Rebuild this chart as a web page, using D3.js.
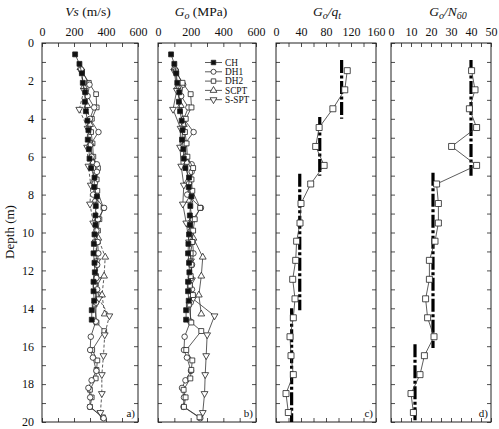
<!DOCTYPE html>
<html><head><meta charset="utf-8">
<script src="https://cdn.jsdelivr.net/npm/d3@7"></script>
<style>
body{margin:0;background:#fff}
svg{display:block}
text{font-family:"Liberation Serif","Times New Roman",serif;fill:#111}
</style>
</head><body>
<svg id="c" width="499" height="429"></svg>
<script>
// ---------- DATA ----------
const seriesNames = ["CH","DH1","DH2","SCPT","S-SPT"];
const depthTickLabels = [0,2,4,6,8,10,12,14,16,18,20];

// CH (cross-hole)
const chDepth = [0.6,1.1,1.6,2.1,2.6,3.1,3.6,4.1,4.6,5.1,5.6,6.1,6.6,7.1,7.6,8.1,8.6,9.1,9.6,10.1,10.6,11.1,11.6,12.1,12.6,13.1,13.6,14.1,14.6];
const chVs = [207,234,249,255,270,268,274,284,290,286,293,297,307,328,326,343,336,334,334,328,324,322,328,330,322,322,326,311,311];
const chGo = [80,100,112,118,130,128,135,145,150,147,155,158,168,190,188,205,198,195,195,190,186,184,190,192,184,184,188,172,172];

// DH1 (down-hole 1)
const dh1Depth = [1.4,2.2,2.8,3.4,4.0,4.7,5.4,6.0,6.4,6.8,7.4,8.0,8.7,9.3,9.9,10.5,11.1,11.7,12.4,13.0,13.7,14.7,15.5,16.2,16.6,17.3,17.8,18.2,18.7,19.2,19.8];
const dh1Vs = [245,297,285,326,300,353,300,310,343,343,330,320,388,350,340,348,352,345,340,345,338,336,305,301,318,340,310,290,301,299,385];
const dh1Go = [105,154,142,186,158,218,158,168,206,206,191,179,263,214,202,212,217,208,202,208,200,198,163,159,177,202,168,147,159,156,259];

// DH2 (down-hole 2)
const dh2Depth = [1.5,2.1,2.7,3.4,4.0,4.7,5.3,6.0,6.6,7.2,7.8,8.7,9.3,9.9,10.5,11.1,11.7,12.3,12.8,13.3,13.8,14.75,15.2,16.2,16.75,17.25,17.7,18.3,18.7,19.2,19.75];
const dh2Vs = [251,293,338,342,312,307,316,321,350,342,346,384,359,350,346,338,342,338,334,350,329,341,389,314,346,341,336,300,311,301,381];
const dh2Go = [110,150,200,205,170,165,175,180,215,205,210,258,225,215,210,200,205,200,195,214,189,204,265,173,210,204,198,157,169,159,254];

// SCPT
const scptDepth = [1.3,2.3,3.3,4.3,5.3,6.3,7.3,8.3,9.3,10.3,11.3,12.3,13.3,14.3];
const scptVs = [240,262,283,300,305,318,322,332,345,352,395,388,375,392];
const scptGo = [100,120,140,158,163,177,181,193,208,217,274,265,250,265];

// S-SPT
const ssptDepth = [1.5,2.5,3.5,4.5,5.5,6.5,7.5,8.5,9.5,10.5,11.5,12.5,13.5,14.4,15.4,16.5,17.5,18.5,19.5];
const ssptVs = [245,262,233,285,282,290,305,300,320,335,345,350,355,421,392,384,374,374,365];
const ssptGo = [100,115,92,138,135,142,158,152,173,190,202,208,214,346,301,295,289,285,274];

// Go/qt
const qtDepth = [1.46,2.47,3.47,4.46,5.46,6.46,7.44,8.47,9.5,10.46,11.47,12.47,13.5,14.5,15.5,16.5,17.5,18.5,19.5];
const goQt = [114,110,91,69,63.5,77,55.5,40,38.4,33,31.5,26.7,30.4,27.7,22.4,24,27.7,16,19.7];
const refQtValue = [105,70,38,25];
const refQtTop = [0.9,3.9,6.9,14.0];
const refQtBottom = [4.0,7.0,14.1,20.0];

// Go/N60
const n60Depth = [1.46,2.47,3.47,4.46,5.46,6.46,7.44,8.47,9.5,10.46,11.47,12.47,13.5,14.5,15.5,16.5,17.5,18.5,19.5];
const goN60 = [40.3,42,39.2,42.8,30.3,42.8,22.8,23.7,23.7,22,19.2,19.2,17.3,18.3,21.5,16.7,14.5,10,11.2];
const refN60Value = [40,21,12];
const refN60Top = [0.9,6.85,15.9];
const refN60Bottom = [7.0,16.1,20.0];

// tick labels
const vsTicks = [0,200,400,600];
const goTicks = [0,200,400,600];
const qtTicks = [0,40,80,120,160];
const n60Ticks = [0,10,20,30,40,50];

// ---------- DRAW ----------
const svg = d3.select("#c");
const yTop = 43, yBot = 422;
const y = d3.scaleLinear().domain([0,20]).range([yTop,yBot]);

const symType = {"CH":d3.symbolSquare,"DH1":d3.symbolCircle,"DH2":d3.symbolSquare,"SCPT":d3.symbolTriangle,"S-SPT":d3.symbolTriangle};
function marker(g, name, cx, cy, size){
  const s = d3.symbol().type(symType[name]).size(size)();
  const rot = name==="S-SPT" ? " rotate(180)" : "";
  g.append("path").attr("d", s)
   .attr("transform", `translate(${cx},${cy})${rot}`)
   .attr("fill", name==="CH" ? "#111" : "#fff")
   .attr("stroke", "#222").attr("stroke-width", 0.8);
}

function panel(cfg){
  const x = d3.scaleLinear().domain(cfg.domain).range([cfg.x0,cfg.x1]);
  const g = svg.append("g");
  const step = cfg.major[1]-cfg.major[0];
  const minor = d3.range(cfg.domain[0], cfg.domain[1]+step/4, step/2);
  const top = g.append("g").attr("transform",`translate(0,${yTop})`)
    .call(d3.axisTop(x).tickValues(minor).tickSize(-4).tickPadding(7)
      .tickFormat(d => cfg.major.includes(d) ? d : ""));
  const bot = g.append("g").attr("transform",`translate(0,${yBot})`)
    .call(d3.axisBottom(x).tickValues(minor).tickSize(-4).tickFormat(""));
  const left = g.append("g").attr("transform",`translate(${cfg.x0},0)`)
    .call(d3.axisLeft(y).tickValues(d3.range(0,21,1)).tickSize(-4).tickPadding(8)
      .tickFormat(d => (cfg.depthLabels && depthTickLabels.includes(d)) ? d : ""));
  const right = g.append("g").attr("transform",`translate(${cfg.x1},0)`)
    .call(d3.axisRight(y).tickValues(d3.range(0,21,1)).tickSize(-4).tickFormat(""));
  [top,bot,left,right].forEach(a=>{
    a.select(".domain").remove();
    a.selectAll("line").attr("stroke","#222").attr("stroke-width",0.8);
    a.selectAll("text").attr("font-family",'"Liberation Serif",serif').attr("font-size",12).attr("fill","#111");
  });
  g.append("rect").attr("x",cfg.x0).attr("y",yTop).attr("width",cfg.x1-cfg.x0).attr("height",yBot-yTop)
    .attr("fill","none").attr("stroke","#222").attr("stroke-width",1);
  g.append("text").attr("x",cfg.x1-3).attr("y",yBot-5).attr("text-anchor","end")
    .attr("font-size",11).text(cfg.tag);
  return {g,x};
}

function drawSeries(p, name, depths, vals, size, dash){
  const line = d3.line().x((d,i)=>p.x(vals[i])).y((d,i)=>y(depths[i]));
  p.g.append("path").attr("d", line(depths)).attr("fill","none")
    .attr("stroke","#333").attr("stroke-width",0.8)
    .attr("stroke-dasharray", dash || null);
  depths.forEach((d,i)=>marker(p.g, name, p.x(vals[i]), y(d), size));
}

function drawRefs(p, vals, tops, bots){
  vals.forEach((v,i)=>{
    p.g.append("line").attr("x1",p.x(v)).attr("x2",p.x(v))
      .attr("y1",y(tops[i])).attr("y2",y(bots[i]))
      .attr("stroke","#000").attr("stroke-width",3.2)
      .attr("stroke-dasharray","13,2.5,3,2.5");
  });
}

// Panel a: Vs
const pa = panel({x0:42,x1:138,domain:[0,600],major:vsTicks,depthLabels:true,tag:"a)"});
drawSeries(pa,"DH2",dh2Depth,dh2Vs,22);
drawSeries(pa,"SCPT",scptDepth,scptVs,20,"3,2");
drawSeries(pa,"S-SPT",ssptDepth,ssptVs,20,"3,2");
drawSeries(pa,"DH1",dh1Depth,dh1Vs,24);
drawSeries(pa,"CH",chDepth,chVs,24);

// Panel b: Go
const pb = panel({x0:158,x1:256,domain:[0,600],major:goTicks,depthLabels:false,tag:"b)"});
drawSeries(pb,"SCPT",scptDepth,scptGo,20);
drawSeries(pb,"S-SPT",ssptDepth,ssptGo,20);
drawSeries(pb,"DH1",dh1Depth,dh1Go,24);
drawSeries(pb,"DH2",dh2Depth,dh2Go,24);
drawSeries(pb,"CH",chDepth,chGo,24);

// legend in panel b
seriesNames.forEach((n,i)=>{
  const ly = 62.5 + i*9.3;
  pb.g.append("line").attr("x1",205).attr("x2",222).attr("y1",ly).attr("y2",ly)
    .attr("stroke","#333").attr("stroke-width",0.8);
  marker(pb.g, n, 213.5, ly, 20);
  pb.g.append("text").attr("x",225).attr("y",ly+3.2).attr("font-size",9.3).text(n);
});

// Panel c: Go/qt
const pc = panel({x0:276,x1:376,domain:[0,160],major:qtTicks,depthLabels:false,tag:"c)"});
drawRefs(pc, refQtValue, refQtTop, refQtBottom);
drawSeries(pc,"DH2",qtDepth,goQt,36);

// Panel d: Go/N60
const pd = panel({x0:391,x1:491,domain:[0,50],major:n60Ticks,depthLabels:false,tag:"d)"});
drawRefs(pd, refN60Value, refN60Top, refN60Bottom);
drawSeries(pd,"DH2",n60Depth,goN60,36);

// Titles
function title(cx, parts){
  const t = svg.append("text").attr("x",cx).attr("y",16).attr("text-anchor","middle").attr("font-size",13.5);
  parts.forEach(p=>{
    const s = t.append("tspan").text(p.t);
    if(p.i) s.attr("font-style","italic");
    if(p.sub) s.attr("font-size",10).attr("baseline-shift","-25%");
  });
}
title(88,[{t:"Vs",i:1},{t:" (m/s)"}]);
title(201,[{t:"G",i:1},{t:"o",i:1,sub:1},{t:" (MPa)"}]);
title(327,[{t:"G",i:1},{t:"o",i:1,sub:1},{t:"/",i:1},{t:"q",i:1},{t:"t",i:1,sub:1}]);
title(448,[{t:"G",i:1},{t:"o",i:1,sub:1},{t:"/",i:1},{t:"N",i:1},{t:"60",i:1,sub:1}]);

// Depth label
svg.append("text").attr("transform","translate(14,232) rotate(-90)")
  .attr("text-anchor","middle").attr("font-size",13).text("Depth (m)");
</script>
</body></html>
